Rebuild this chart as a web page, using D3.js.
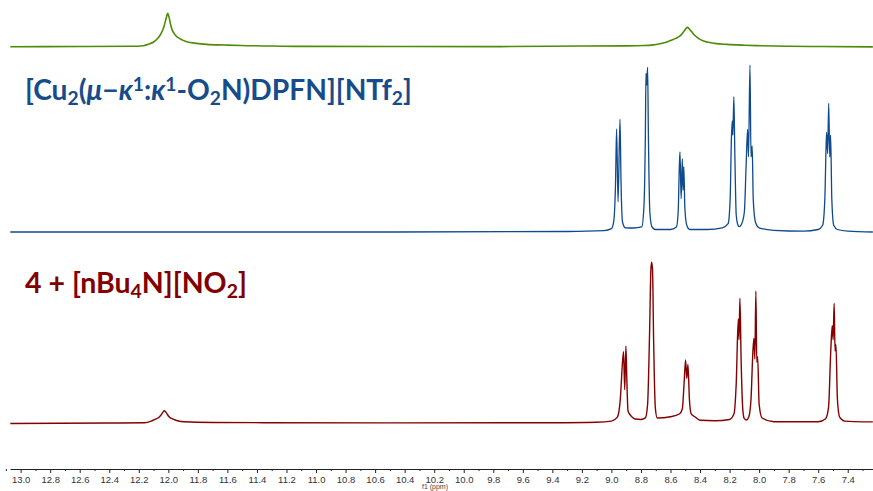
<!DOCTYPE html>
<html>
<head>
<meta charset="utf-8">
<script src="https://cdn.jsdelivr.net/npm/d3@7"></script>
<style>
body { margin:0; background:#fff; }
svg { display:block; }
.axis text { font-family: "Liberation Sans", Arial, sans-serif; font-size:9.5px; fill:#333; }
.axis path, .axis line { stroke:#222; }
</style>
</head>
<body>
<svg id="chart" width="873" height="491"></svg>
<script>
// chemical shift ticks (ppm)
var majorTicks = d3.range(130, 73, -2).map(d => d/10);
var minorTicks = d3.range(131, 72, -1).map(d => d/10);

// traces: [ppm, relative intensity (tallest peak = 100)]
var greenTrace = [
  [13.07,0],[12.6,0.5],[12.25,1.2],[12.17,3],[12.13,8],[12.10,14],[12.085,19],[12.07,26],
  [12.055,35],[12.038,50],[12.028,63],[12.019,78],[12.01,93],[12.004,100],[11.998,93],
  [11.99,78],[11.982,62],[11.972,48],[11.96,39],[11.948,32],[11.925,25],[11.9,19],[11.875,15],
  [11.81,10],[11.74,7],[11.62,5],[11.51,3.5],[11.3,2],[11.11,1],[10.4,0.5],[9.75,0.3],[9.2,2],
  [8.9,2.5],[8.78,3.5],[8.716,5.5],[8.68,8],[8.65,11],[8.62,15],[8.59,20],[8.565,25],[8.54,31],
  [8.525,37],[8.508,47],[8.496,54],[8.485,58],[8.476,55],[8.467,50],[8.455,44],[8.44,36],
  [8.42,28],[8.40,22],[8.38,17.5],[8.354,14],[8.30,10],[8.219,7],[8.1,4.5],[7.99,3],[7.8,1.5],
  [7.59,0.6],[7.23,-0.5]
];

var blueTrace = [
  [13.07,0],[10.5,0],[9.3,0.3],[9.05,0.8],[9.0,2],[8.985,6],[8.972,30],[8.965,61.7],[8.955,18],
  [8.942,67.5],[8.935,30],[8.925,6],[8.905,2.5],[8.85,2.4],[8.795,3],[8.78,15],[8.77,60],
  [8.766,95],[8.761,88],[8.755,98.6],[8.75,60],[8.74,12],[8.725,3],[8.7,1.5],[8.6,1.5],
  [8.56,3],[8.548,12],[8.54,40],[8.536,48],[8.528,20],[8.52,43.7],[8.515,25],[8.51,39],
  [8.503,15],[8.49,4],[8.47,1.5],[8.35,1.5],[8.25,2.5],[8.21,5],[8.196,20],[8.188,55],
  [8.182,66.5],[8.178,58],[8.171,81],[8.165,50],[8.155,10],[8.145,4.5],[8.135,3.2],[8.12,4.5],
  [8.1,12],[8.088,40],[8.078,61.5],[8.072,45],[8.062,100],[8.055,45],[8.047,51.5],[8.04,20],
  [8.025,6],[8.0,2.5],[7.9,1],[7.7,0.5],[7.6,1.5],[7.57,4],[7.555,20],[7.547,50],[7.543,59.7],
  [7.536,47],[7.529,77],[7.522,45],[7.516,58],[7.508,20],[7.495,4],[7.47,1.5],[7.4,0.5],[7.23,0]
];

var redTrace = [
  [13.07,0],[12.4,0.3],[12.16,0.5],[12.12,1.3],[12.09,2.5],[12.061,4],[12.045,5.8],[12.035,7.2],
  [12.027,7.9],[12.018,7.2],[12.008,5.8],[11.995,4.2],[11.975,3],[11.95,2],[11.898,1.1],
  [11.7,0.6],[10.5,0.4],[9.4,0.5],[9.1,0.8],[9.0,1.5],
  [8.96,4],[8.94,15],[8.925,38],[8.918,44.5],[8.91,21],[8.902,48],[8.895,25],[8.888,8],
  [8.88,6.3],[8.86,4],[8.84,2.8],[8.8,2.5],[8.77,3.5],[8.755,12],[8.742,55],[8.733,95],
  [8.728,100],[8.722,96],[8.714,50],[8.703,10],[8.69,3.4],[8.6,4.2],[8.54,5.9],[8.52,9],
  [8.508,25],[8.498,39.4],[8.49,28],[8.482,36.7],[8.472,15],[8.46,6],[8.435,4.2],[8.4,2],
  [8.3,1.7],[8.2,2.5],[8.17,6],[8.155,25],[8.141,64.8],[8.136,52],[8.13,77.7],[8.122,40],
  [8.11,8],[8.1,3],[8.085,2.2],[8.07,4],[8.055,15],[8.042,45],[8.035,52.9],[8.029,40],
  [8.022,82.2],[8.016,38],[8.01,41.4],[8.0,12],[7.98,3.4],[7.9,1.1],[7.6,1.1],[7.55,3],
  [7.53,10],[7.515,45],[7.505,60.7],[7.499,52],[7.492,74.6],[7.486,45],[7.48,49.1],
  [7.47,15],[7.455,4],[7.42,1.5],[7.3,1],[7.23,1]
];

var svg = d3.select("#chart");
var x = d3.scaleLinear().domain([13.072, 7.229]).range([10, 873]);

var yGreen = d3.scaleLinear().domain([0, 100]).range([46.7, 13.3]);
var yBlue  = d3.scaleLinear().domain([0, 100]).range([232, 65]);
var yRed   = d3.scaleLinear().domain([0, 100]).range([423.5, 262.3]);

function drawTrace(data, y, color, w) {
    var line = d3.line()
        .x(d => x(d[0]))
        .y(d => y(d[1]))
        .curve(d3.curveMonotoneX);
    svg.append("path")
        .datum(data)
        .attr("d", line)
        .attr("fill", "none")
        .attr("stroke", color)
        .attr("stroke-width", w)
        .attr("stroke-linejoin", "round");
}

drawTrace(greenTrace, yGreen, "#4d8c06", 1.6);
drawTrace(blueTrace, yBlue, "#0e4a8c", 1.3);
drawTrace(redTrace, yRed, "#850000", 1.4);

// axis
var gAxis = svg.append("g").attr("class", "axis").attr("transform", "translate(0,469)");
gAxis.call(d3.axisBottom(x).tickValues(majorTicks).tickSize(4).tickSizeOuter(0).tickPadding(3).tickFormat(d3.format(".1f")));
svg.append("g").attr("class", "axis").attr("transform", "translate(0,469)")
    .call(d3.axisBottom(x).tickValues(minorTicks.filter(d => Math.round(d*10) % 2 !== 0))
        .tickSize(2).tickSizeOuter(0).tickFormat(""))
    .select(".domain").remove();

svg.append("text")
    .attr("x", 435).attr("y", 489)
    .attr("text-anchor", "middle")
    .style("font-family", "Liberation Sans, Arial, sans-serif")
    .style("font-size", "7px")
    .style("fill", "#444")
    .text("f1 (ppm)");

// titles with sub/superscripts
function drawTitle(parts, x0, y0, targetW, color) {
    var t = svg.append("text")
        .attr("x", x0).attr("y", y0)
        .style("font-family", "Lato, 'Open Sans', sans-serif")
        .style("font-weight", "bold")
        .style("fill", color);
    var fs = 26;
    function build() {
        t.selectAll("tspan").remove();
        t.style("font-size", fs + "px");
        var prev = 0;
        parts.forEach(function(p) {
            var shift = p[1] === "sub" ? fs*0.18 : (p[1] === "sup" ? -fs*0.33 : 0);
            var ts = t.append("tspan").text(p[0]).attr("dy", shift - prev);
            if (p[1] === "sub" || p[1] === "sup") ts.style("font-size", (fs*0.68) + "px");
            if (p[1] === "i") ts.style("font-style", "italic");
            prev = shift;
        });
    }
    build();
    fs = fs * targetW / t.node().getComputedTextLength();
    build();
}

drawTitle([["[Cu","n"],["2","sub"],["(","n"],["μ","i"],["−","n"],["κ","i"],["1","sup"],[":","n"],
           ["κ","i"],["1","sup"],["-O","n"],["2","sub"],["N)DPFN][NTf","n"],["2","sub"],["]","n"]],
          25, 100, 387, "#174c8a");
drawTitle([["4 + [nBu","n"],["4","sub"],["N][NO","n"],["2","sub"],["]","n"]],
          25, 293, 222, "#820000");
</script>
</body>
</html>
